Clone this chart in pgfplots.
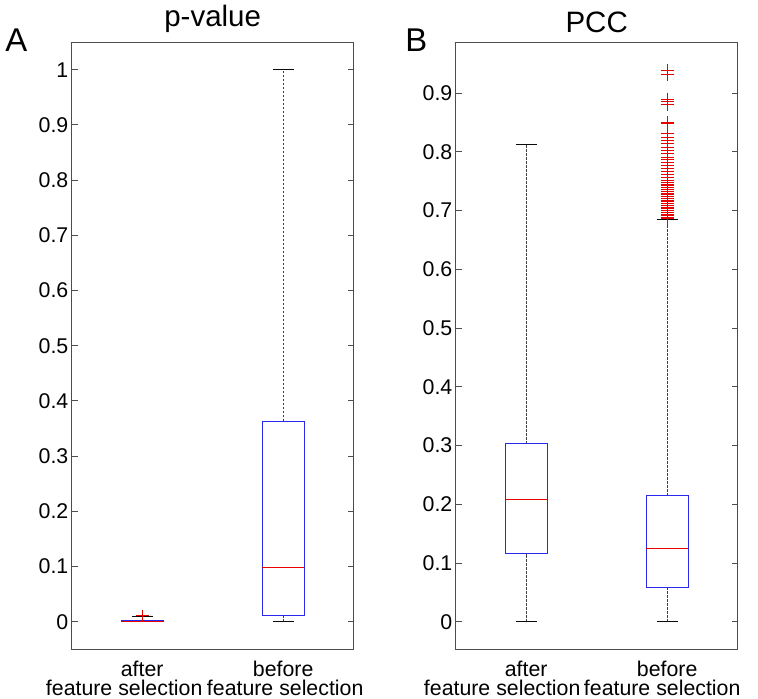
\documentclass[border=0pt]{standalone}
\usepackage{fontspec}
\setmainfont{Liberation Sans}
\usepackage[rgb]{xcolor}
\usepackage{pgfplots}
\pgfplotsset{compat=1.18}

\definecolor{boxblue}{RGB}{40,40,240}
\definecolor{medred}{RGB}{235,0,0}
\definecolor{axgray}{RGB}{77,77,77}
\definecolor{whgray}{RGB}{64,64,64}
\definecolor{capblack}{RGB}{10,10,10}

\pgfplotsset{
  panel/.style={
    scale only axis,
    width=141bp, height=303.6bp,
    xmin=0.5, xmax=2.5,
    xtick={1,2},
    xticklabel style={align=center, font=\fontsize{10.7}{9.4}\selectfont, inner sep=0pt, yshift=-5.8bp},
    major x tick style={draw=none},
    yticklabel style={font=\fontsize{10.7}{12}\selectfont, inner sep=1.5bp},
    /pgf/number format/assume math mode=true,
    tick align=inside,
    ytick pos=both,
    major tick length=3bp,
    axis line style={draw=axgray},
    tick style={draw=axgray, line width=0.4bp},
    title style={font=\fontsize{14.8}{17}\selectfont, inner sep=0pt, yshift=-1.5bp},
    unbounded coords=jump,
  },
  bx/.style={draw=boxblue, line width=0.5bp, mark=none},
  med/.style={draw=medred, line width=0.5bp, mark=none},
  whisk/.style={draw=whgray, line width=0.4bp, dash pattern=on 1.2bp off 0.8bp, mark=none},
  cap/.style={draw=capblack, line width=0.5bp, mark=none},
  outl/.style={draw=medred, only marks, mark=+, mark size=3.2bp,
    mark options={draw=medred, line width=0.5bp}},
}

\begin{document}
\begin{tikzpicture}
\useasboundingbox (0,0) rectangle (379bp,349.5bp);

% panel A: p-value
\begin{axis}[panel, at={(35.85bp,24.85bp)}, anchor=south west,
  title={p-value},
  ymin=-0.05, ymax=1.05,
  ytick={0,0.1,0.2,0.3,0.4,0.5,0.6,0.7,0.8,0.9,1},
  xticklabels={{after\\feature selection\hspace*{18bp}},{before\\\hspace*{2bp}feature selection}}]
% whiskers and caps
\addplot[whisk] coordinates {(1,0.002) (1,0.009) (nan,nan) (2,0) (2,0.011) (nan,nan) (2,0.363) (2,1.0)};
\addplot[cap] coordinates {(0.925,0) (1.075,0) (nan,nan) (0.925,0.009) (1.075,0.009)
  (nan,nan) (1.925,0) (2.075,0) (nan,nan) (1.925,1.0) (2.075,1.0)};
% boxes
\addplot[bx] coordinates {(0.85,0) (1.15,0) (1.15,0.002) (0.85,0.002) (0.85,0)
  (nan,nan) (1.85,0.011) (2.15,0.011) (2.15,0.363) (1.85,0.363) (1.85,0.011)};
% medians
\addplot[med] coordinates {(0.85,0.001) (1.15,0.001) (nan,nan) (1.85,0.099) (2.15,0.099)};
% outliers
\addplot[outl] coordinates {(1,0.0105)};
\end{axis}

% panel B: PCC
\begin{axis}[panel, at={(227.85bp,24.85bp)}, anchor=south west,
  title={PCC},
  ymin=-0.047, ymax=0.987,
  ytick={0,0.1,0.2,0.3,0.4,0.5,0.6,0.7,0.8,0.9},
  xticklabels={{after\\feature selection\hspace*{24bp}},{before\\feature selection\hspace*{5bp}}}]
\addplot[whisk] coordinates {(1,0) (1,0.116) (nan,nan) (1,0.303) (1,0.813)
  (nan,nan) (2,0) (2,0.0588) (nan,nan) (2,0.2146) (2,0.685)};
\addplot[cap] coordinates {(0.925,0) (1.075,0) (nan,nan) (0.925,0.813) (1.075,0.813)
  (nan,nan) (1.925,0) (2.075,0) (nan,nan) (1.925,0.685) (2.075,0.685)};
\addplot[bx] coordinates {(0.85,0.116) (1.15,0.116) (1.15,0.303) (0.85,0.303) (0.85,0.116)
  (nan,nan) (1.85,0.0588) (2.15,0.0588) (2.15,0.2146) (1.85,0.2146) (1.85,0.0588)};
\addplot[med] coordinates {(0.85,0.2085) (1.15,0.2085) (nan,nan) (1.85,0.125) (2.15,0.125)};
\addplot[outl] coordinates {
  (2,0.938) (2,0.932) (2,0.890) (2,0.886) (2,0.880) (2,0.850) (2,0.849)
  (2,0.831) (2,0.825) (2,0.820) (2,0.814) (2,0.808) (2,0.802) (2,0.797)
  (2,0.791) (2,0.787) (2,0.782) (2,0.776) (2,0.771) (2,0.766) (2,0.762)
  (2,0.757) (2,0.751) (2,0.748) (2,0.745) (2,0.742) (2,0.739) (2,0.736)
  (2,0.733) (2,0.730) (2,0.727) (2,0.724) (2,0.721) (2,0.718) (2,0.715)
  (2,0.712) (2,0.709) (2,0.706) (2,0.703) (2,0.700) (2,0.697) (2,0.694)
  (2,0.691) (2,0.688) (2,0.686)
  };
\end{axis}

\node[anchor=base west, inner sep=0pt, font=\fontsize{16.5}{18}\selectfont] at (2.5bp,323.65bp) {A};
\node[anchor=base west, inner sep=0pt, font=\fontsize{16.5}{18}\selectfont] at (202.5bp,323.65bp) {B};
\end{tikzpicture}
\end{document}
